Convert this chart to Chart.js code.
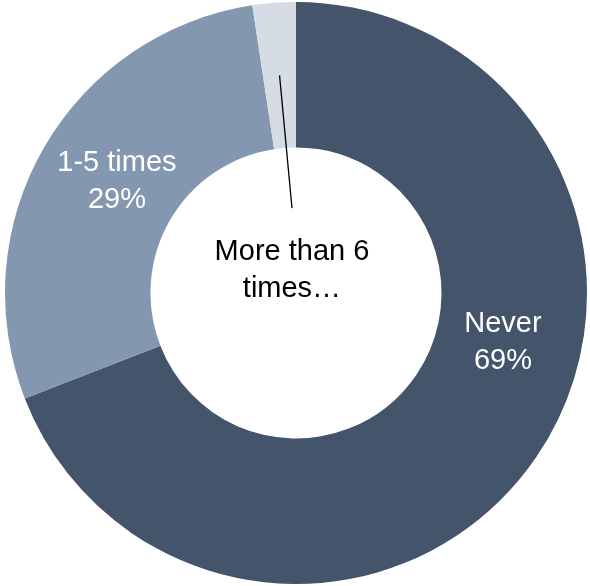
<!DOCTYPE html>
<html>
<head>
<meta charset="utf-8">
<script src="https://cdn.jsdelivr.net/npm/chart.js@4"></script>
<style>
  html, body { margin: 0; padding: 0; background: #ffffff; }
  #wrap { position: relative; width: 590px; height: 586px; }
</style>
</head>
<body>
<div id="wrap"><canvas id="c" width="590" height="586"></canvas></div>
<script>
const categories = ["Never", "1-5 times", "More than 6 times"];
const values = [69.1, 28.5, 2.4];
const valueLabels = ["69%", "29%", ""];
const labelLines = [["Never", "69%"], ["1-5 times", "29%"], ["More than 6", "times…"]];
const colors = ["#44546A", "#8497B0", "#D6DCE4"];

const FONT = "29px 'Liberation Sans', Arial, sans-serif";

// label placement styles: angle fraction within arc + radius fraction of outer radius,
// or polar offset from chart centre for the "outside" label
const labelStyle = [
  { mode: "arc", frac: 0.424, rfrac: 0.738, color: "#ffffff" },
  { mode: "arc", frac: 0.50, rfrac: 0.711, color: "#ffffff" },
  { mode: "center", angleDeg: 344.6, rfrac: 0.052, color: "#000000", leaderRfrac: 0.292, leaderAngleDeg: 357.3 }
];

const labelPlugin = {
  id: "labels",
  afterDatasetsDraw(chart) {
    const ctx = chart.ctx;
    const meta = chart.getDatasetMeta(0);
    ctx.save();
    ctx.font = FONT;
    ctx.textAlign = "center";
    ctx.textBaseline = "alphabetic";
    meta.data.forEach((arc, i) => {
      const p = arc.getProps(["x", "y", "startAngle", "endAngle", "innerRadius", "outerRadius"], true);
      const st = labelStyle[i];
      let ax, ay;
      if (st.mode === "arc") {
        const a = p.startAngle + (p.endAngle - p.startAngle) * st.frac;
        const r = p.outerRadius * st.rfrac;
        ax = p.x + Math.cos(a) * r;
        ay = p.y + Math.sin(a) * r;
      } else {
        const a = (st.angleDeg - 90) * Math.PI / 180;
        const r = p.outerRadius * st.rfrac;
        ax = p.x + Math.cos(a) * r;
        ay = p.y + Math.sin(a) * r;
        // leader line from slice midpoint
        const tp = arc.tooltipPosition(true);
        const la = (st.leaderAngleDeg - 90) * Math.PI / 180;
        const lr = p.outerRadius * st.leaderRfrac;
        ctx.beginPath();
        ctx.strokeStyle = "#000000";
        ctx.lineWidth = 1.3;
        ctx.moveTo(tp.x, tp.y);
        ctx.lineTo(p.x + Math.cos(la) * lr, p.y + Math.sin(la) * lr);
        ctx.stroke();
      }
      ctx.fillStyle = st.color;
      const lines = labelLines[i];
      const lh = 37;
      lines.forEach((t, k) => {
        ctx.fillText(t, ax, ay - lh / 2 + k * lh);
      });
    });
    ctx.restore();
  }
};

new Chart(document.getElementById("c"), {
  type: "doughnut",
  data: {
    labels: categories,
    datasets: [{
      data: values,
      backgroundColor: colors,
      borderWidth: 0
    }]
  },
  options: {
    responsive: false,
    animation: false,
    cutout: "50%",
    layout: { padding: { top: 2, bottom: 2, left: 2, right: 0 } },
    plugins: { legend: { display: false }, tooltip: { enabled: false } }
  },
  plugins: [labelPlugin]
});
</script>
</body>
</html>
